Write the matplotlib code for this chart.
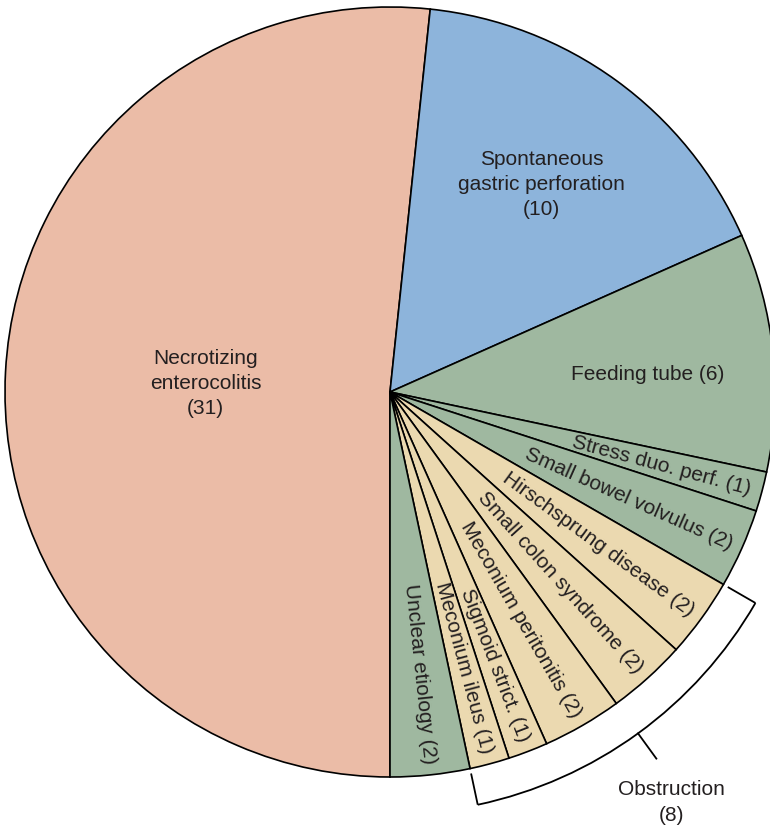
import numpy as np
import matplotlib
matplotlib.use("Agg")
import matplotlib.pyplot as plt
from matplotlib.patches import Arc

# Slice data (clockwise from the bottom)
causes = ["Necrotizing\nenterocolitis", "Spontaneous\ngastric perforation", "Feeding tube",
          "Stress duo. perf.", "Small bowel volvulus", "Hirschsprung disease",
          "Small colon syndrome", "Meconium peritonitis", "Sigmoid strict.",
          "Meconium ileus", "Unclear etiology"]
counts = [31, 10, 6, 1, 2, 2, 2, 2, 1, 1, 2]
group_name = "Obstruction"
group_members = ["Hirschsprung disease", "Small colon syndrome", "Meconium peritonitis",
                 "Sigmoid strict.", "Meconium ileus"]

# Styles
salmon = "#EBBCA7"
blue = "#8DB4DB"
green = "#9FB8A0"
beige = "#EBD9B0"
colors = [salmon, blue, green, green, green, beige, beige, beige, beige, beige, green]
text_color = "#231F20"

plt.rcParams["font.family"] = ["Liberation Sans", "DejaVu Sans"]

fig = plt.figure(figsize=(7.7, 8.29), dpi=100)
ax = fig.add_axes([0, 0, 1, 1])

cx, cy, R = 390, 436, 385
wedges, _ = ax.pie(counts, startangle=270, counterclock=False, radius=R, center=(cx, cy),
                   colors=colors, wedgeprops=dict(edgecolor="black", linewidth=1.2))
ax.set_xlim(0, 770)
ax.set_ylim(0, 829)
ax.set_aspect("equal")
ax.axis("off")


def polar(r, deg):
    a = np.deg2rad(deg)
    return cx + r * np.cos(a), cy + r * np.sin(a)


# Labels: big slices horizontal, small ones radial
for i, (w, name, n) in enumerate(zip(wedges, causes, counts)):
    mid = (w.theta1 + w.theta2) / 2
    if i < 3:
        dist = 0.48 if i == 0 else 0.67
        shift = -1.8 if i == 2 else 0
        x, y = polar(dist * R, mid + shift)
        label = f"{name}\n({n})" if "\n" in name else f"{name} ({n})"
        ax.text(x, y, label, ha="center", va="center", fontsize=15,
                color=text_color, linespacing=1.38)
    else:
        x, y = polar(0.97 * R, mid)
        ax.text(x, y, f"{name} ({n})", ha="right", va="center", fontsize=15,
                color=text_color, rotation=mid, rotation_mode="anchor")

# Bracket for the obstruction group
idx = [causes.index(m) for m in group_members]
a_start = min(wedges[i].theta1 for i in idx)
a_end = max(wedges[i].theta2 for i in idx)
r_in, r_arc, r_tick = 1.013 * R, 1.096 * R, 1.177 * R
ax.add_patch(Arc((cx, cy), 2 * r_arc, 2 * r_arc, theta1=a_start, theta2=a_end,
                 color="black", linewidth=1.3))
for a in (a_start, a_end):
    x0, y0 = polar(r_in, a)
    x1, y1 = polar(r_arc, a)
    ax.plot([x0, x1], [y0, y1], color="black", linewidth=1.3, solid_capstyle="butt")
a_mid = (a_start + a_end) / 2
x0, y0 = polar(r_arc, a_mid)
x1, y1 = polar(r_tick, a_mid)
ax.plot([x0, x1], [y0, y1], color="black", linewidth=1.3)
total_group = sum(counts[i] for i in idx)
lx, ly = polar(1.29 * R, a_mid - 1.5)
ax.text(lx, ly, f"{group_name}\n({total_group})", ha="center", va="center",
        fontsize=15, color=text_color, linespacing=1.45)

fig.savefig("out.png", dpi=100)
